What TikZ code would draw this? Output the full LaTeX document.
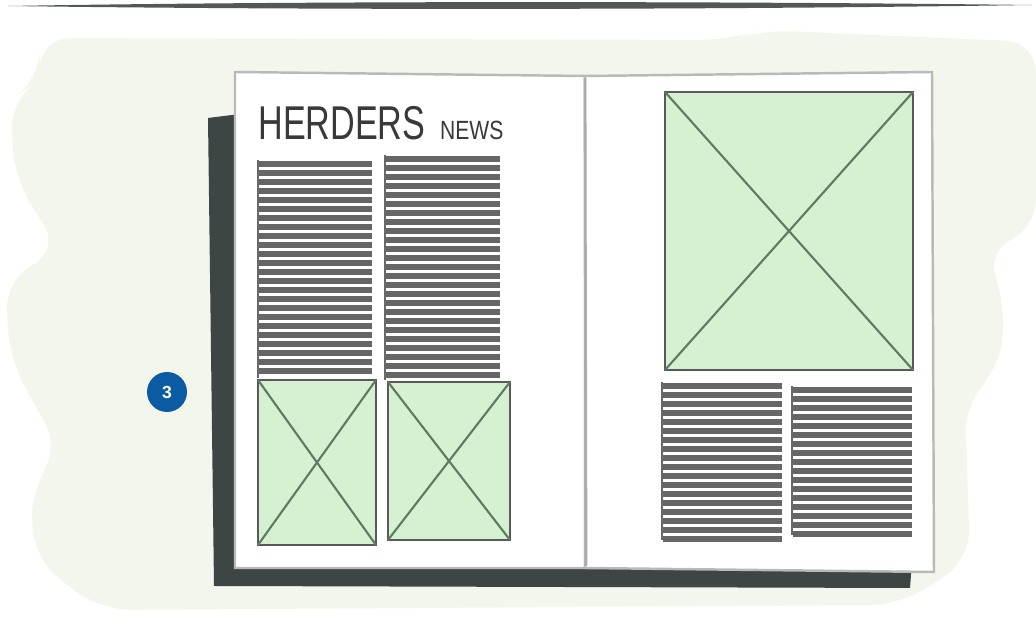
\documentclass[tikz,border=0pt]{standalone}
\usepackage{graphicx}
\usepackage{fontspec}
\setsansfont{Liberation Sans}
\definecolor{blobgreen}{HTML}{F3F6EC}
\definecolor{inkdark}{HTML}{3E4645}
\definecolor{imggreen}{HTML}{D6F1D2}
\definecolor{xgreen}{HTML}{5E7A62}
\definecolor{badgeblue}{HTML}{0A5AA4}
\usetikzlibrary{positioning}
\tikzset{
	textline/.style={line width=3pt, color=gray!80!black}
}
\tikzset{
	imgbox/.style={fill=imggreen, draw=gray!70!black, line width=1.5pt},
	imgcross/.style={draw=xgreen, line width=1.2pt}
}
\newcommand{\imgph}[4]{%
  \draw[imgbox] (#1,#2) rectangle (#3,#4);
  \draw[imgcross] (#1,#2) -- (#3,#4) (#1,#4) -- (#3,#2);}

\begin{document}
\begin{tikzpicture}[x=0.02cm, y=-0.02cm]
      \useasboundingbox (0,0) rectangle (1036,624);
      % brush stroke on top
      \fill[inkdark!90] (8,6) .. controls (300,1) and (700,1) .. (1032,5)
        .. controls (700,10) and (300,10) .. (8,6) -- cycle;
      % pale background blob
      \fill[blobgreen, rounded corners=0.6cm] (40,38) -- (730,40) -- (760,30) -- (1036,42)
        -- (1036,230) -- (985,250) -- (1005,300) -- (1000,370) -- (965,400)
        -- (970,560) -- (900,605) -- (100,610) -- (35,560) -- (30,490)
        -- (60,450) -- (10,360) -- (5,280) -- (60,250) -- (15,180) -- (10,100)
        -- (40,80) -- cycle;
      % shadow under the book
      \fill[inkdark] (208,118) -- (240,114) -- (240,562) -- (912,562)
        -- (910,588) -- (214,586) -- cycle;
      % pages
      \filldraw[fill=white, draw=gray!55, line width=1.4pt]
        (235,72) -- (585,76) -- (585,568) -- (235,568) -- cycle;
      \filldraw[fill=white, draw=gray!55, line width=1.4pt]
        (585,76) -- (932,72) -- (934,572) -- (585,568) -- cycle;
      \draw[gray!65, line width=1.6pt] (585,78) -- (586,566);
      % heading
      \node[anchor=base west, inner sep=0pt, text=gray!45!black] (title) at (258,140)
        {\scalebox{0.72}[1]{\sffamily\fontsize{27}{27}\selectfont HERDERS}};
      \node[right=8pt of title.base east, anchor=base west, inner sep=0pt,
        text=gray!45!black] (news)
        {\scalebox{0.8}[1]{\sffamily\fontsize{15}{15}\selectfont NEWS}};
      % text columns, left page
      \foreach \y in {164,173,...,376}
        \draw[textline] (259,\y) -- (372,\y);
      \foreach \y in {159,168,...,378}
        \draw[textline] (386,\y) -- (500,\y);
      \draw[inkdark!80, line width=1.2pt] (258,160) -- (258,378) (385,155) -- (385,380);
      % text columns, right page
      \foreach \y in {386,395,...,540}
        \draw[textline] (663,\y) -- (782,\y);
      \foreach \y in {390,399,...,535}
        \draw[textline] (793,\y) -- (912,\y);
      \draw[inkdark!80, line width=1.2pt] (662,382) -- (662,540) (792,386) -- (792,535);
      % picture placeholders
      \imgph{258}{380}{376}{545}
      \imgph{388}{382}{510}{540}
      \imgph{665}{92}{913}{370}
      % step badge
      \node[circle, fill=badgeblue, minimum size=0.8cm, inner sep=0pt,
        text=white, font=\sffamily\bfseries] (badge) at (167,392) {3};
    \end{tikzpicture}
\end{document}
